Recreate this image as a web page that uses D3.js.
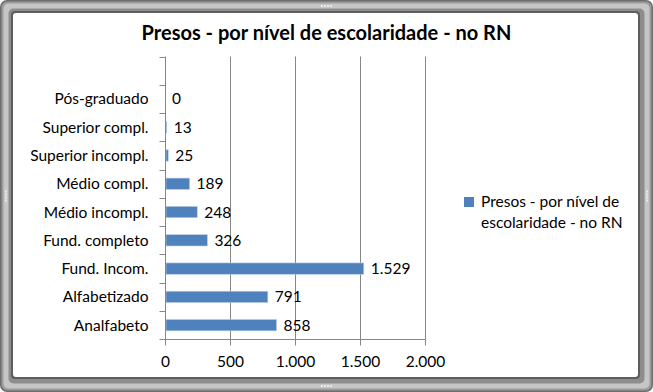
<!DOCTYPE html>
<html><head><meta charset="utf-8">
<script src="https://cdn.jsdelivr.net/npm/d3@7/dist/d3.min.js"></script>
<style>html,body{margin:0;padding:0;background:#fff;}svg{display:block;}</style>
</head><body>
<script>
const title = "Presos - por nível de escolaridade - no RN";
const seriesName = "Presos - por nível de escolaridade - no RN";
const categories = ["Analfabeto","Alfabetizado","Fund. Incom.","Fund. completo","Médio incompl.","Médio compl.","Superior incompl.","Superior compl.","Pós-graduado",""];
const values = [858,791,1529,326,248,189,25,13,0,null];
const xTicks = [0,500,1000,1500,2000];

const W = 653, H = 392;
const font = "Lato, 'Open Sans', sans-serif";
const svg = d3.select("body").append("svg").attr("width", W).attr("height", H);

// window frame
const frame = [
  {x:0,y:0,w:W,h:H,r:7,c:"#6e6e6e"},
  {x:1.5,y:1.5,w:W-3,h:H-3,r:6,c:"#9c9c9c"},
  {x:3.5,y:3.5,w:W-7,h:H-7,r:5,c:"#c6c6c6"},
  {x:8.5,y:8.5,w:W-17,h:H-17,r:5,c:"#8d8d8d"},
  {x:11,y:11,w:W-24,h:H-24,r:4,c:"#5e5e5e"},
  {x:13,y:13,w:W-28,h:H-28,r:3,c:"#ffffff"}
];
svg.selectAll("rect.frame").data(frame).enter().append("rect").attr("class","frame")
  .attr("x",d=>d.x).attr("y",d=>d.y).attr("width",d=>d.w).attr("height",d=>d.h)
  .attr("rx",d=>d.r).attr("fill",d=>d.c);
// grips
const grips = [[W/2,H-6,true],[W/2,6,true],[6,H/2,false],[W-6,H/2,false]];
grips.forEach(([gx,gy,h])=>{
  for(let i=-1.5;i<=1.5;i++){
    svg.append("rect").attr("x",h?gx+i*3-1:gx-1).attr("y",h?gy-1:gy+i*3-1)
      .attr("width",2).attr("height",2).attr("fill","#e8e8e8");
  }
});

const x = d3.scaleLinear().domain([0,2000]).range([165,425]);
const y = d3.scaleBand().domain(categories).range([339.3,56.5]).paddingInner(0.6).paddingOuter(0.3);
const yb = d3.scaleBand().domain(categories).range([339.3,56.5]);

const g = svg.append("g");
// gridlines
g.selectAll("line.grid").data(xTicks.slice(1)).enter().append("line")
  .attr("x1",d=>Math.round(x(d))+0.5).attr("x2",d=>Math.round(x(d))+0.5)
  .attr("y1",56.5).attr("y2",339.5).attr("stroke","#868686").attr("stroke-width",1);

// x axis
const xAxis = d3.axisBottom(x).tickValues(xTicks).tickSize(6).tickPadding(10)
  .tickFormat(d=>d3.formatLocale({decimal:",",thousands:".",grouping:[3],currency:["R$",""]}).format(",")(d));
const xa = svg.append("g").attr("transform","translate(0,339.5)").call(xAxis);
xa.select(".domain").attr("d","M160,0H425").attr("stroke","#868686");
xa.selectAll(".tick line").attr("stroke","#868686");
xa.selectAll(".tick text").attr("font-family",font).attr("font-size","15.5px").attr("fill","#000");

// y axis
const ya = svg.append("g").attr("transform","translate(165.5,0)");
ya.append("line").attr("x1",0).attr("x2",0).attr("y1",56.5).attr("y2",345).attr("stroke","#868686");
const bounds = [yb.range()[1]].concat(categories.map(c=>yb(c)+yb.bandwidth()));
ya.selectAll("line.t").data(bounds).enter().append("line")
  .attr("x1",-6).attr("x2",0).attr("y1",d=>Math.round(d)+0.5).attr("y2",d=>Math.round(d)+0.5).attr("stroke","#868686");
ya.selectAll("text").data(categories).enter().append("text")
  .attr("x",-17).attr("y",d=>yb(d)+yb.bandwidth()/2+5.5).attr("text-anchor","end")
  .attr("font-family",font).attr("font-size","15.5px").attr("fill","#000").text(d=>d);

// bars
const data = categories.map((c,i)=>({c,v:values[i]})).filter(d=>d.v!==null);
g.selectAll("rect.bar").data(data).enter().append("rect")
  .attr("x",x(0)+1).attr("y",d=>y(d.c)).attr("width",d=>Math.max(0,x(d.v)-x(0)-1)).attr("height",y.bandwidth())
  .attr("fill","#4f81bd").attr("stroke","#b9cde5").attr("stroke-width",d=>d.v>0?0.6:0);
const fmt = d3.formatLocale({decimal:",",thousands:".",grouping:[3],currency:["R$",""]}).format(",");
g.selectAll("text.val").data(data).enter().append("text")
  .attr("x",d=>x(d.v)+7).attr("y",d=>y(d.c)+y.bandwidth()/2+5.5)
  .attr("font-family",font).attr("font-size","15.5px").attr("fill","#000").text(d=>fmt(d.v));

// title
svg.append("text").attr("x",326.5).attr("y",39.5).attr("text-anchor","middle")
  .attr("font-family",font).attr("font-weight","bold").attr("font-size","20px").attr("fill","#000").text(title);

// legend
const lg = svg.append("g");
lg.append("rect").attr("x",464).attr("y",197).attr("width",10).attr("height",10).attr("fill","#4f81bd");
const lt = lg.append("text").attr("font-family",font).attr("font-size","15.5px").attr("fill","#000");
lt.append("tspan").attr("x",481).attr("y",207).text("Presos - por nível de");
lt.append("tspan").attr("x",481).attr("y",228).text("escolaridade - no RN");
</script>
</body></html>
